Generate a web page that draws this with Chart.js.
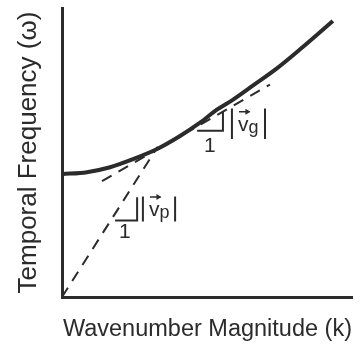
<!DOCTYPE html>
<html lang="en">
  <head>
    <meta charset="UTF-8" />
    <title>Dispersion relation</title>
    <script src="https://cdn.jsdelivr.net/npm/chart.js"></script>
    <style>
      html, body { margin: 0; padding: 0; background: #ffffff; }
      #chart { display: block; }
    </style>
  </head>
  <body>
    <canvas id="chart" width="361" height="344"></canvas>
    <script>
      // dispersion curve (k, omega in 0..10 units)
      const curveK = [0, 0.86, 1.66, 2.45, 3.28, 4.07, 4.76, 5.34, 5.9, 6.59, 7.41, 8.21, 9.34];
      const curveW = [4.25, 4.32, 4.49, 4.77, 5.12, 5.57, 6.03, 6.48, 6.83, 7.32, 7.91, 8.57, 9.55];

      // phase velocity line (from origin) and group velocity tangent
      const phaseK = [0, 3.3];
      const phaseW = [0, 5.2];
      const groupK = [1.38, 7.17];
      const groupW = [4.01, 7.35];

      // little slope triangles
      const phaseStepK = [1.83, 2.59, 2.59];
      const phaseStepW = [2.65, 2.65, 3.45];
      const groupStepK = [4.66, 5.55, 5.55];
      const groupStepW = [5.75, 5.75, 6.41];

      // |v| labels and the "1" under each step
      const velSubs = ["p", "g"];
      const velLeftK = [2.79, 5.86];
      const velRightK = [3.9, 7.0];
      const velLowW = [2.61, 5.47];
      const velHighW = [3.48, 6.52];
      const runK = [2.17, 5.1];
      const runW = [2.23, 5.23];

      const ink = "#2b2b2b";
      const fontFamily = "'Liberation Sans', Arial, sans-serif";

      const toPoints = (xs, ys) => xs.map((x, i) => ({ x: x, y: ys[i] }));

      const slopeLabelPlugin = {
        id: "slopeLabels",
        afterDatasetsDraw(chart) {
          const ctx = chart.ctx;
          const xs = chart.scales.x;
          const ys = chart.scales.y;
          ctx.save();
          ctx.strokeStyle = ink;
          ctx.fillStyle = ink;
          ctx.lineWidth = 2;

          velSubs.forEach((sub, i) => {
            const x1 = xs.getPixelForValue(velLeftK[i]);
            const x2 = xs.getPixelForValue(velRightK[i]);
            const yTop = ys.getPixelForValue(velHighW[i]);
            const yBot = ys.getPixelForValue(velLowW[i]);

            // absolute value bars
            ctx.beginPath();
            ctx.moveTo(x1, yTop);
            ctx.lineTo(x1, yBot);
            ctx.moveTo(x2, yTop);
            ctx.lineTo(x2, yBot);
            ctx.stroke();

            // v with vector arrow
            const base = (yTop + yBot) / 2 + 7;
            const vx = x1 + 6;
            ctx.font = "21px " + fontFamily;
            ctx.textAlign = "left";
            ctx.textBaseline = "alphabetic";
            ctx.fillText("v", vx, base);
            const vw = ctx.measureText("v").width;

            const ay = base - 19;
            ctx.lineWidth = 1.5;
            ctx.beginPath();
            ctx.moveTo(vx + 1, ay);
            ctx.lineTo(vx + vw + 1, ay);
            ctx.stroke();
            ctx.beginPath();
            ctx.moveTo(vx + vw + 2, ay);
            ctx.lineTo(vx + vw - 3, ay - 3);
            ctx.lineTo(vx + vw - 3, ay + 3);
            ctx.closePath();
            ctx.fill();
            ctx.lineWidth = 2;

            ctx.font = "18px " + fontFamily;
            ctx.fillText(sub, vx + vw, base + 2);

            // run of the step
            ctx.font = "21px " + fontFamily;
            ctx.textAlign = "center";
            ctx.textBaseline = "middle";
            ctx.fillText("1", xs.getPixelForValue(runK[i]), ys.getPixelForValue(runW[i]));
          });
          ctx.restore();
        },
      };

      const ctx = document.getElementById("chart").getContext("2d");
      new Chart(ctx, {
        type: "scatter",
        data: {
          datasets: [
            {
              label: "dispersion",
              data: toPoints(curveK, curveW),
              showLine: true,
              borderColor: ink,
              borderWidth: 4,
              pointRadius: 0,
              tension: 0.4,
              cubicInterpolationMode: "monotone",
            },
            {
              label: "phase",
              data: toPoints(phaseK, phaseW),
              showLine: true,
              borderColor: ink,
              borderWidth: 2,
              borderDash: [11, 8],
              pointRadius: 0,
            },
            {
              label: "group",
              data: toPoints(groupK, groupW),
              showLine: true,
              borderColor: ink,
              borderWidth: 2,
              borderDash: [11, 8],
              pointRadius: 0,
            },
            {
              label: "phase step",
              data: toPoints(phaseStepK, phaseStepW),
              showLine: true,
              borderColor: ink,
              borderWidth: 2,
              pointRadius: 0,
            },
            {
              label: "group step",
              data: toPoints(groupStepK, groupStepW),
              showLine: true,
              borderColor: ink,
              borderWidth: 2,
              pointRadius: 0,
            },
          ],
        },
        options: {
          responsive: false,
          animation: false,
          layout: { padding: { top: 8, right: 9, left: 0, bottom: 0 } },
          plugins: {
            legend: { display: false },
            tooltip: { enabled: false },
          },
          scales: {
            x: {
              type: "linear",
              min: 0,
              max: 10,
              grid: { display: false },
              ticks: { display: false },
              border: { display: true, color: ink, width: 3 },
              title: {
                display: true,
                text: "Wavenumber Magnitude (k)",
                color: ink,
                align: "end",
                font: { family: fontFamily, size: 23.5 },
                padding: { top: 4, bottom: 0 },
              },
              afterFit(scale) {
                scale.height = 47;
              },
            },
            y: {
              type: "linear",
              min: 0,
              max: 10,
              grid: { display: false },
              ticks: { display: false },
              border: { display: true, color: ink, width: 3 },
              title: {
                display: true,
                text: "Temporal Frequency (\u03c9)",
                color: ink,
                font: { family: fontFamily, size: 26 },
                padding: { top: 13, bottom: 0 },
              },
              afterFit(scale) {
                scale.width = 62;
              },
            },
          },
        },
        plugins: [slopeLabelPlugin],
      });
    </script>
  </body>
</html>
